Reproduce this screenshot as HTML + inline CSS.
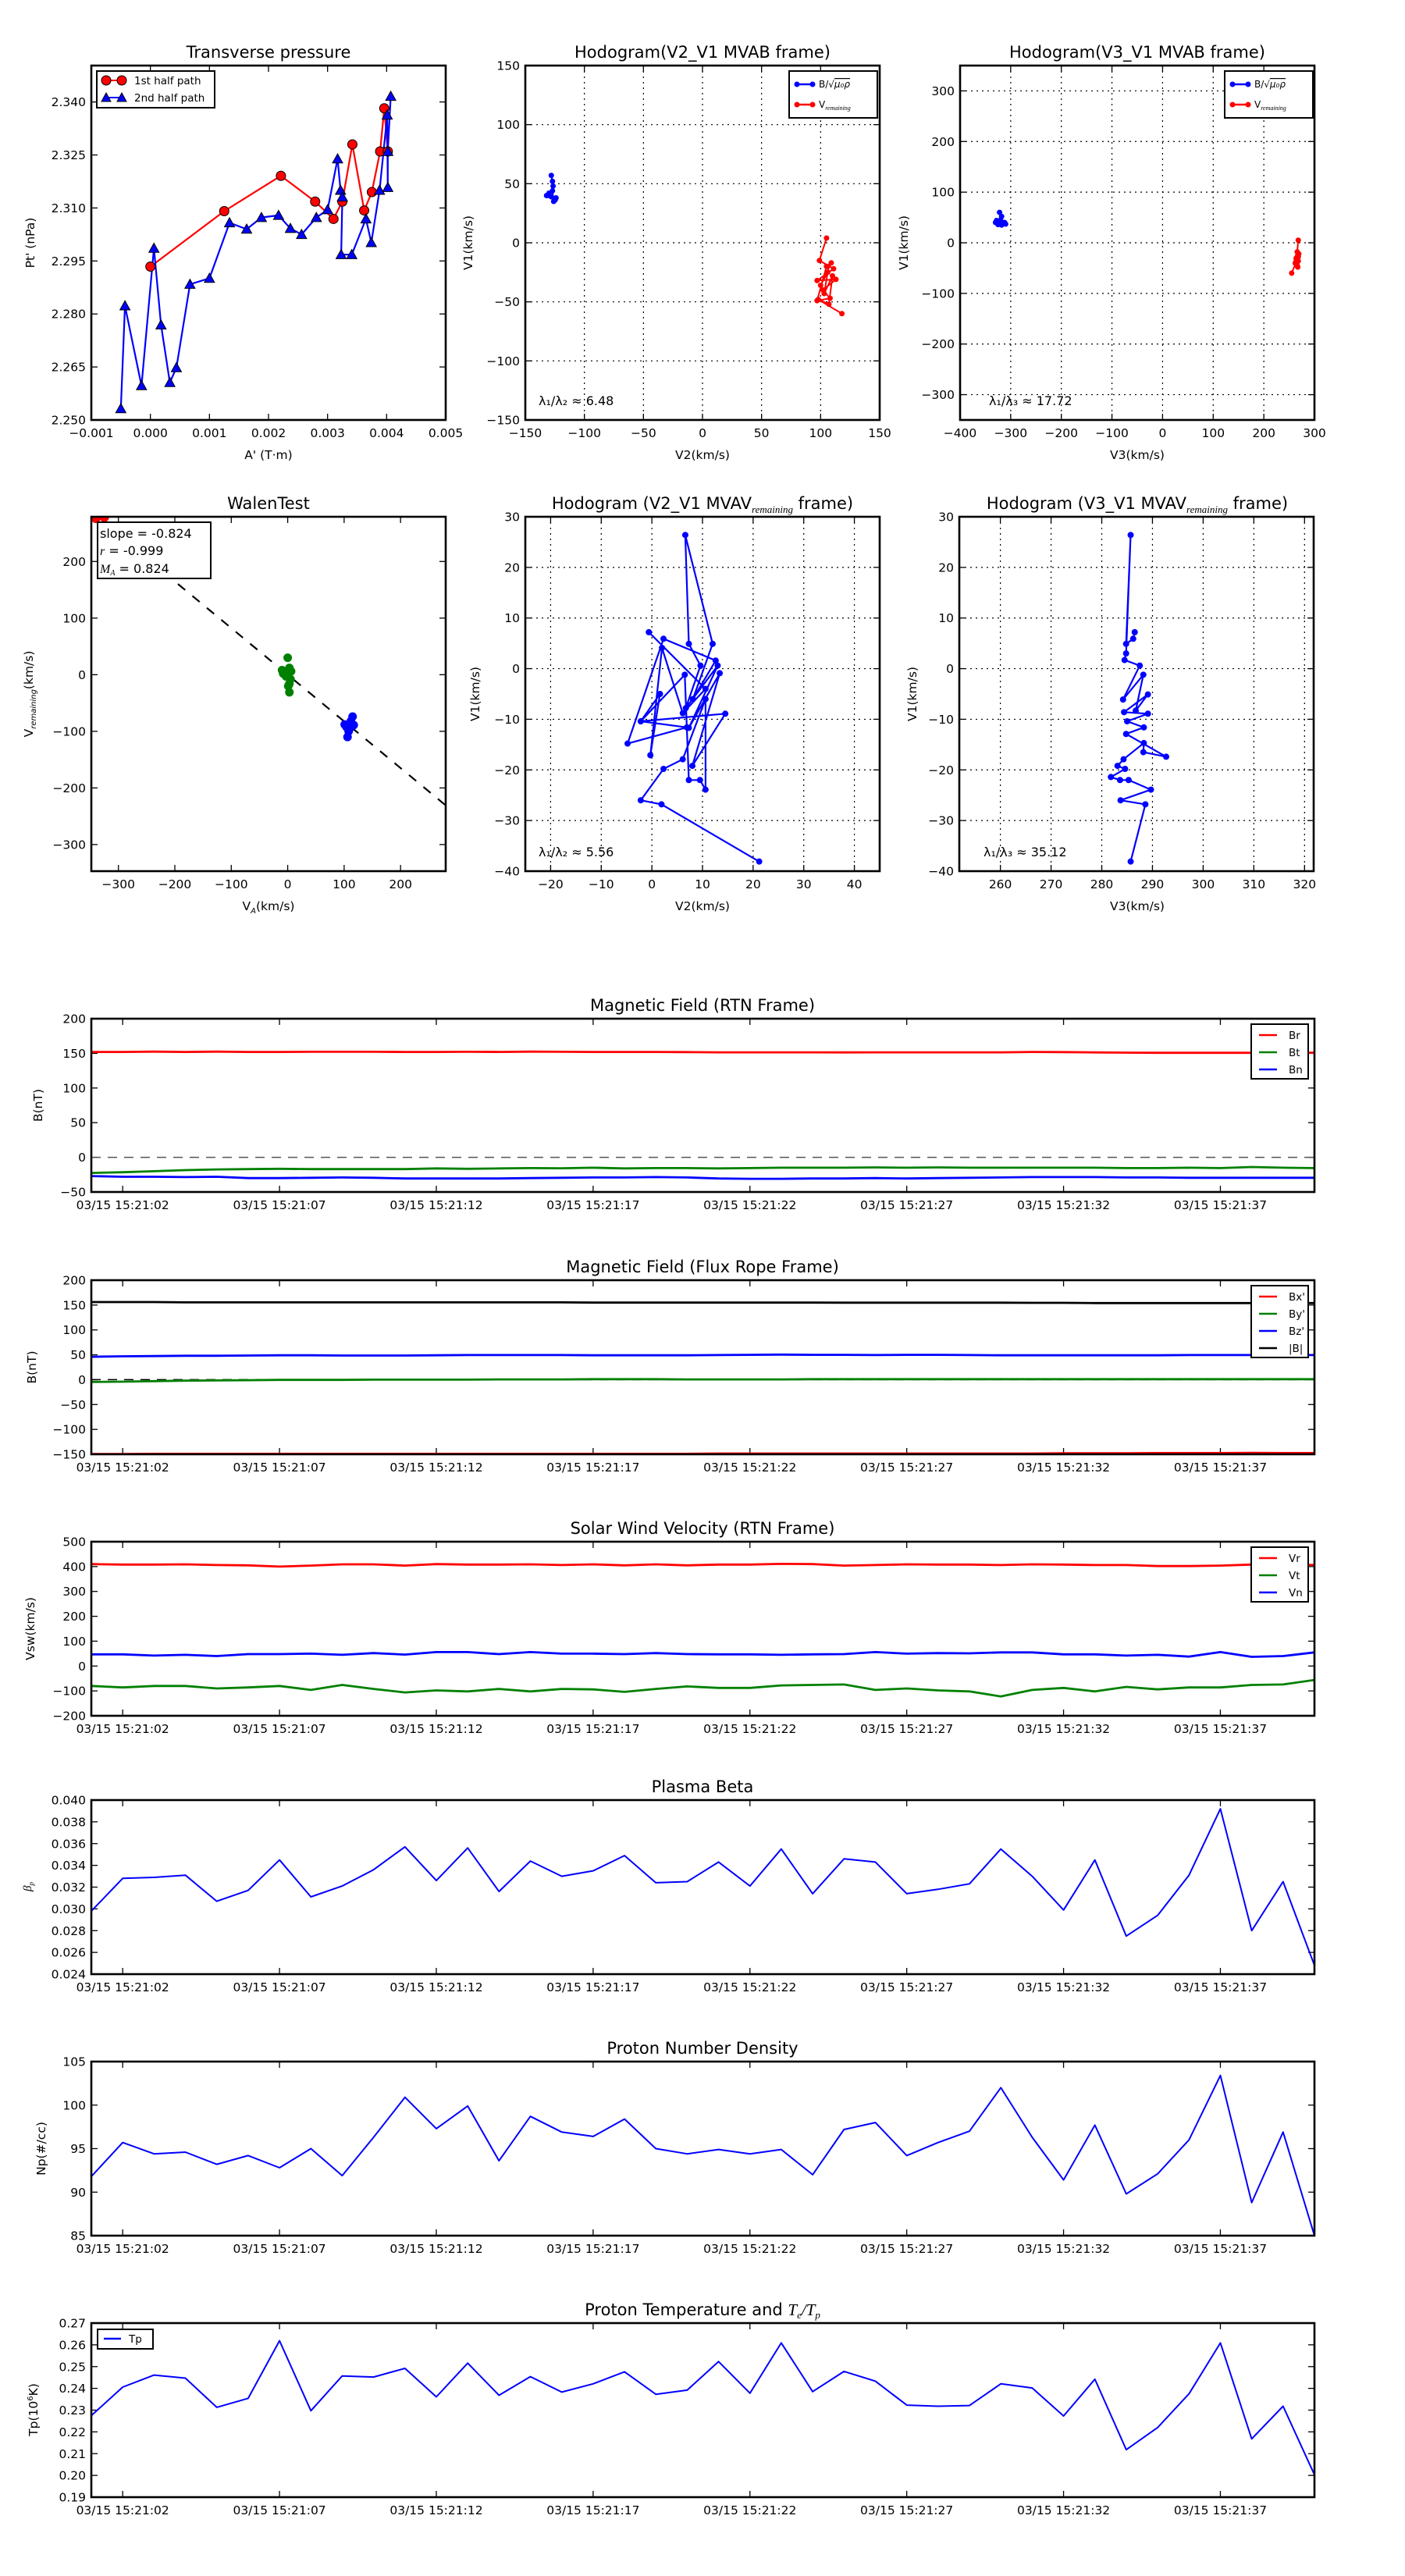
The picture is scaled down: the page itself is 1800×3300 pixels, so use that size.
<!DOCTYPE html>
<html><head><meta charset="utf-8"><title>Flux rope analysis</title>
<style>
html,body{margin:0;padding:0;background:#fff;}
svg{display:block;font-family:"DejaVu Sans","Liberation Sans",sans-serif;}
</style></head>
<body>
<svg id="fig" xmlns="http://www.w3.org/2000/svg" width="1800" height="3300" viewBox="0 0 1800 3300">
<rect x="0" y="0" width="1800" height="3300" fill="#fff"/>
</svg>
<script>
// ---------- DATA ----------
const redA = [0.0000,0.00125,0.00221,0.00279,0.00310,0.00325,0.00342,0.00362,0.00375,0.00389,0.00396,0.00402];
const redPt = [2.2934,2.3091,2.3191,2.3118,2.3069,2.3118,2.3280,2.3093,2.3145,2.3260,2.3382,2.3260];
const blueA = [-0.00050,-0.00043,-0.00015,0.00006,0.00018,0.00033,0.00044,0.00067,0.00100,0.00134,0.00163,0.00188,0.00217,0.00237,0.00256,0.00281,0.00300,0.00317,0.00322,0.00325,0.00323,0.00341,0.00365,0.00374,0.00388,0.00401,0.00402,0.00402,0.00407];
const bluePt = [2.2532,2.2823,2.2597,2.2986,2.2769,2.2606,2.2648,2.2884,2.2901,2.3058,2.3040,2.3073,2.3079,2.3042,2.3025,2.3073,2.3095,2.3239,2.3150,2.3131,2.2968,2.2968,2.3069,2.3002,2.3150,2.3363,2.3158,2.3260,2.3416];

const h1BlueV2 = [-128,-127,-126.5,-129.5,-124,-125,-132,-127,-126,-130,-124.5,-128];
const h1BlueV1 = [57,52,48,40,38,36,40,44,35,42,37,39];
const h1RedV2 = [105,99,111,97,113,102,108,97,105,109,100,106,103,110,107,98,118];
const h1RedV1 = [4,-15,-22,-32,-31,-40,-47,-49,-20,-17,-36,-25,-43,-28,-52,-48,-60];
const h2BlueV3 = [-322,-318,-320,-330,-315,-325,-312,-328,-318,-322,-310,-320];
const h2BlueV1 = [60,52,45,40,38,36,40,44,35,42,37,39];
const h2RedV3 = [268,266,267,264,268,265,269,266,267,264,262,268,255];
const h2RedV1 = [5,-18,-25,-30,-36,-40,-22,-45,-48,-33,-40,-28,-60];

const walenRedX = [-335,-325,-340,-330];
const walenRedY = [282,278,276,284];
const walenGreenX = [0,-10,3,6,-3,3,1,3,-8,5];
const walenGreenY = [30,8,12,6,-3,-16,-20,-31,2,-8];
const walenBlueX = [115,101,117,108,106,112,110,104];
const walenBlueY = [-74,-88,-89,-100,-110,-82,-95,-92];
const walenSlope = -0.824;

const m2V2 = [-0.6,10.6,6.1,2.0,-0.3,1.6,-2.2,6.9,-4.8,2.3,12.6,8.1,12.0,6.6,7.3,9.6,6.7,13.0,7.3,13.4,8.0,14.5,-2.2,6.5,7.3,9.5,10.6,10.6,6.1,2.3,-2.2,1.9,21.2];
const m2V1 = [7.2,-4.0,-8.8,4.1,-17.1,-5.0,-10.4,-11.6,-14.8,5.9,1.6,-6.0,4.9,26.4,4.9,0.6,-7.8,0.6,-11.7,-0.9,-19.2,-8.9,-10.4,-1.2,-22.0,-22.0,-23.9,-6.0,-17.9,-19.8,-26.0,-26.8,-38.1];
const m3V3 = [286.5,286.2,284.8,285.7,284.8,284.5,287.5,284.2,288.2,286.7,289.1,284.4,289.1,285.0,288.3,284.8,292.7,288.2,288.3,284.3,283.1,284.6,281.8,283.6,285.3,289.7,283.7,288.6,285.7];
const m3V1 = [7.2,5.9,4.9,26.4,3.0,1.7,0.6,-6.1,-1.2,-8.3,-5.1,-8.6,-8.9,-10.4,-11.6,-12.9,-17.4,-16.5,-14.7,-17.9,-19.2,-19.8,-21.4,-22.0,-22.0,-23.9,-26.0,-26.8,-38.1];

const timeLabels = ["03/15 15:21:02","03/15 15:21:07","03/15 15:21:12","03/15 15:21:17","03/15 15:21:22","03/15 15:21:27","03/15 15:21:32","03/15 15:21:37"];
const timeTicks = [2,7,12,17,22,27,32,37];
const tSec = [1,2,3,4,5,6,7,8,9,10,11,12,13,14,15,16,17,18,19,20,21,22,23,24,25,26,27,28,29,30,31,32,33,34,35,36,37,38,39,40];

const Br = [152,152,152.5,152,152.5,152,152,152.2,152.3,152.2,152,152,152.3,152,152.5,152.3,152,152,152,151.8,151.5,151.5,151.5,151.5,151.3,151.5,151.5,151.5,151.5,151.5,152,151.8,151.3,151,150.8,150.8,150.8,150.8,150.8,151];
const Bt = [-22.5,-21.5,-20,-18.5,-17.5,-17,-16.5,-17,-17,-17,-17,-16,-16.5,-16,-15.5,-15.8,-15,-16,-15.5,-15.5,-16,-15.5,-15,-15,-15,-14.5,-15,-14.5,-15,-15,-15,-15,-15,-15.5,-15.5,-15,-15.5,-14,-15,-15.5];
const Bn = [-27,-28,-28,-28.5,-28,-30,-30,-29.5,-29,-29.5,-30.5,-30.5,-30.5,-30.5,-30,-29.5,-29,-29,-28.5,-29,-30.5,-31,-31,-30.5,-30.5,-30,-30.5,-30,-29.5,-29,-28.5,-28.5,-28.5,-29,-29,-29.5,-29.5,-29.5,-29.5,-29.5];

const Bxp = [-149.5,-149.5,-149,-149,-149,-149,-149,-149,-149,-149,-149,-149,-149,-149,-149,-149,-149,-149,-149,-149,-148.5,-148.5,-148.5,-148.5,-148.5,-148.5,-148.5,-148.5,-148.5,-148.5,-148.5,-148,-148,-148,-147.5,-147.5,-147.5,-147,-147.5,-147.5];
const Byp = [-4.5,-4,-3,-2,-1.5,-1,-0.5,-0.5,-0.5,0,0,0,0,0.5,0.5,0.5,1,1,1,0.5,0.5,0.5,0.5,1,1,1,1,1,1,1,1,1,1,1,1,1,1,1,1,1];
const Bzp = [46,47,47.5,48,48,48.5,49,49,48.5,48.5,48.5,49,49.5,49.5,49.5,49.5,49,49,49,49,49.5,50,50.5,50,50,49.5,50,50,49.5,49,49,49,49,49,49,49.5,49.5,49.5,49.5,49.5];
const Bmag = [156,156,156,155.5,155.5,155.5,155.5,155.5,155.5,155.5,155.5,155.5,155.5,155.5,155.5,155.5,155,155,155,155,155,155,155,155,154.8,154.8,154.8,154.8,154.8,154.8,154.5,154.5,154,154,154,154,154,154,154,154];

const Vr = [410,408,408,409,406,405,400,404,409,409,404,410,408,408,409,406,409,405,409,405,408,408,411,410,404,406,409,408,408,406,409,408,406,406,402,402,404,408,410,406];
const Vt = [-80,-86,-80,-80,-90,-86,-80,-96,-76,-92,-106,-98,-102,-92,-102,-92,-94,-104,-92,-82,-88,-88,-78,-76,-74,-96,-90,-98,-102,-122,-96,-88,-102,-84,-94,-86,-86,-76,-74,-56];
const Vn = [47,47,42,45,40,48,48,50,45,52,46,56,56,48,56,50,50,48,52,48,47,47,45,47,48,56,50,52,51,55,55,47,47,42,45,38,56,37,40,55];

const beta = [0.0298,0.0328,0.0329,0.0331,0.0307,0.0317,0.0345,0.0311,0.0321,0.0336,0.0357,0.0326,0.0356,0.0316,0.0344,0.0330,0.0335,0.0349,0.0324,0.0325,0.0343,0.0321,0.0355,0.0314,0.0346,0.0343,0.0314,0.0318,0.0323,0.0355,0.0330,0.0299,0.0345,0.0275,0.0294,0.0331,0.0392,0.0280,0.0325,0.0248];
const dens = [91.8,95.7,94.4,94.6,93.2,94.2,92.8,95.0,91.9,96.3,100.9,97.3,99.9,93.6,98.7,96.9,96.4,98.4,95.0,94.4,94.9,94.4,94.9,92.0,97.2,98.0,94.2,95.7,97.0,102.0,96.3,91.4,97.7,89.8,92.1,96.0,103.4,88.8,96.9,85.0];
const temp = [0.2275,0.2406,0.2461,0.2447,0.2313,0.2354,0.2619,0.2297,0.2457,0.2452,0.2492,0.2361,0.2516,0.2368,0.2454,0.2383,0.2421,0.2476,0.2373,0.2392,0.2523,0.2378,0.2609,0.2385,0.2478,0.2433,0.2323,0.2318,0.2321,0.2421,0.2402,0.2273,0.2442,0.2118,0.2220,0.2375,0.2609,0.2168,0.2318,0.2003];

// ---------- HELPERS ----------
const NS = 'http://www.w3.org/2000/svg';
const svg = document.getElementById('fig');
let clipN = 0;
function mk(tag, attrs, name, parent) {
  const el = document.createElementNS(NS, tag);
  for (const k in attrs) el.setAttribute(k, attrs[k]);
  
  
  (parent || svg).appendChild(el);
  return el;
}
function txt(x, y, s, size, anchor, name, parent, extra) {
  const a = {x: x, y: y, 'font-size': size, 'text-anchor': anchor || 'middle', fill: '#000'};
  if (extra) for (const k in extra) a[k] = extra[k];
  const t = mk('text', a, name, parent);
  t.textContent = s;
  return t;
}
function fmtMinus(s) { return String(s).replace('-', '\u2212'); }

function axes(name, box, xl, yl, xt, yt, xlab, ylab, grid, xLabY) {
  const g = mk('g', {}, name);
  const sx = v => box.x0 + (v - xl[0]) / (xl[1] - xl[0]) * (box.x1 - box.x0);
  const sy = v => box.y1 - (v - yl[0]) / (yl[1] - yl[0]) * (box.y1 - box.y0);
  const cid = 'clip' + (clipN++);
  const cp = mk('clipPath', {id: cid}, name + '-clip', g);
  mk('rect', {x: box.x0, y: box.y0, width: box.x1 - box.x0, height: box.y1 - box.y0}, name + '-clip-rect', cp);
  if (grid) {
    xt.forEach(v => mk('line', {x1: sx(v), x2: sx(v), y1: box.y0, y2: box.y1, stroke: '#000', 'stroke-width': 1.2, 'stroke-dasharray': '2,5'}, name + '-grid-x', g));
    yt.forEach(v => mk('line', {x1: box.x0, x2: box.x1, y1: sy(v), y2: sy(v), stroke: '#000', 'stroke-width': 1.2, 'stroke-dasharray': '2,5'}, name + '-grid-y', g));
  }
  xt.forEach((v, i) => {
    const x = sx(v);
    mk('line', {x1: x, x2: x, y1: box.y1, y2: box.y1 - 8, stroke: '#000', 'stroke-width': 1.3}, name + '-xtick', g);
    mk('line', {x1: x, x2: x, y1: box.y0, y2: box.y0 + 8, stroke: '#000', 'stroke-width': 1.3}, name + '-xtick-top', g);
    txt(x, box.y1 + 22, xlab[i], 15.5, 'middle', name + '-xtick-label', g);
  });
  yt.forEach((v, i) => {
    const y = sy(v);
    mk('line', {x1: box.x0, x2: box.x0 + 8, y1: y, y2: y, stroke: '#000', 'stroke-width': 1.3}, name + '-ytick', g);
    mk('line', {x1: box.x1, x2: box.x1 - 8, y1: y, y2: y, stroke: '#000', 'stroke-width': 1.3}, name + '-ytick-right', g);
    txt(box.x0 - 7, y + 5.5, ylab[i], 15.5, 'end', name + '-ytick-label', g);
  });
  const dg = mk('g', {'clip-path': 'url(#' + cid + ')'}, name + '-data', g);
  return {sx, sy, g, dg, box, name};
}
function frame(ax) {
  const b = ax.box;
  mk('rect', {x: b.x0, y: b.y0, width: b.x1 - b.x0, height: b.y1 - b.y0, fill: 'none', stroke: '#000', 'stroke-width': 2.6}, ax.name + '-frame', ax.g);
}
function line(ax, xs, ys, color, w, name, dash) {
  const pts = xs.map((x, i) => ax.sx(x).toFixed(1) + ',' + ax.sy(ys[i]).toFixed(1)).join(' ');
  const a = {points: pts, fill: 'none', stroke: color, 'stroke-width': w, 'stroke-linejoin': 'round'};
  if (dash) a['stroke-dasharray'] = dash;
  return mk('polyline', a, name, ax.dg);
}
function dots(ax, xs, ys, color, r, name, stroke) {
  xs.forEach((x, i) => {
    const a = {cx: ax.sx(x), cy: ax.sy(ys[i]), r: r, fill: color};
    if (stroke) { a.stroke = stroke; a['stroke-width'] = 1; }
    mk('circle', a, name, ax.dg);
  });
}
function tris(ax, xs, ys, color, s, name) {
  xs.forEach((x, i) => {
    const cx = ax.sx(x), cy = ax.sy(ys[i]);
    mk('polygon', {points: (cx) + ',' + (cy - s) + ' ' + (cx - s) + ',' + (cy + s * 0.8) + ' ' + (cx + s) + ',' + (cy + s * 0.8), fill: color, stroke: '#000', 'stroke-width': 1}, name, ax.dg);
  });
}
function ylabel(x, yc, s, name, sub) {
  const t = mk('text', {x: 0, y: 0, 'font-size': 15.5, 'text-anchor': 'middle', transform: 'translate(' + x + ',' + yc + ') rotate(-90)', fill: '#000'}, name);
  t.textContent = s;
  if (sub) {
    const ts = mk('tspan', {'font-size': 10, 'font-style': 'italic', dy: 4}, name + '-sub', t);
    ts.textContent = sub[0];
    const ts2 = mk('tspan', {dy: -4}, name + '-rest', t);
    ts2.textContent = sub[1];
  }
  return t;
}
function ticksLabels(vals, dec) { return vals.map(v => fmtMinus(dec === undefined ? String(v) : v.toFixed(dec))); }
function range(a, b, s) { const r = []; for (let v = a; v <= b + 1e-9; v += s) r.push(Math.round(v * 1e6) / 1e6); return r; }

// ---------- ROW 1 ----------
// Transverse pressure
{
  const xt = range(-0.001, 0.005, 0.001), yt = range(2.250, 2.340, 0.015);
  const ax = axes('transverse-pressure-plot', {x0: 117, x1: 571, y0: 84, y1: 538}, [-0.001, 0.005], [2.250, 2.3503], xt, yt, ticksLabels(xt, 3), ticksLabels(yt, 3), false);
  line(ax, redA, redPt, '#ff0000', 2.2, 'first-half-path-line');
  line(ax, blueA, bluePt, '#0000ff', 2.2, 'second-half-path-line');
  dots(ax, redA, redPt, '#ff0000', 6, 'first-half-marker', '#000');
  tris(ax, blueA, bluePt, '#0000ff', 6.5, 'second-half-marker');
  frame(ax);
  txt(344, 74, 'Transverse pressure', 21, 'middle', 'transverse-pressure-title');
  txt(344, 588, "A' (T\u00b7m)", 15.5, 'middle', 'transverse-x-axis-title');
  ylabel(44, 311, "Pt' (nPa)", 'transverse-y-axis-title');
  const lg = mk('g', {}, 'transverse-legend');
  mk('rect', {x: 124, y: 91, width: 151, height: 47, fill: '#fff', stroke: '#000', 'stroke-width': 2}, 'legend-box', lg);
  mk('line', {x1: 136, x2: 156, y1: 103, y2: 103, stroke: '#f00', 'stroke-width': 2}, 'legend-line-red', lg);
  mk('circle', {cx: 136, cy: 103, r: 6, fill: '#f00', stroke: '#000'}, 'legend-marker-red', lg);
  mk('circle', {cx: 156, cy: 103, r: 6, fill: '#f00', stroke: '#000'}, 'legend-marker-red', lg);
  txt(172, 108, '1st half path', 13.5, 'start', 'legend-entry-first-half', lg);
  mk('line', {x1: 136, x2: 156, y1: 125, y2: 125, stroke: '#00f', 'stroke-width': 2}, 'legend-line-blue', lg);
  mk('polygon', {points: '136,119 130,130 142,130', fill: '#00f', stroke: '#000'}, 'legend-marker-blue', lg);
  mk('polygon', {points: '156,119 150,130 162,130', fill: '#00f', stroke: '#000'}, 'legend-marker-blue', lg);
  txt(172, 130, '2nd half path', 13.5, 'start', 'legend-entry-second-half', lg);
}

function hodoLegend(x0, name) {
  const lg = mk('g', {}, name);
  mk('rect', {x: x0, y: 91, width: 113, height: 60, fill: '#fff', stroke: '#000', 'stroke-width': 2}, name + '-box', lg);
  mk('line', {x1: x0 + 10, x2: x0 + 30, y1: 108, y2: 108, stroke: '#00f', 'stroke-width': 2.5}, name + '-line-blue', lg);
  mk('circle', {cx: x0 + 10, cy: 108, r: 3.5, fill: '#00f'}, name + '-dot', lg);
  mk('circle', {cx: x0 + 30, cy: 108, r: 3.5, fill: '#00f'}, name + '-dot', lg);
  const t1 = txt(x0 + 38, 112, 'B/\u221a', 12, 'start', name + '-entry-b', lg);
  const s1 = mk('tspan', {'font-style': 'italic', 'text-decoration': 'overline'}, name + '-mu', t1);
  s1.textContent = '\u03bc\u2080\u03c1';
  mk('line', {x1: x0 + 10, x2: x0 + 30, y1: 134, y2: 134, stroke: '#f00', 'stroke-width': 2.5}, name + '-line-red', lg);
  mk('circle', {cx: x0 + 10, cy: 134, r: 3.5, fill: '#f00'}, name + '-dot', lg);
  mk('circle', {cx: x0 + 30, cy: 134, r: 3.5, fill: '#f00'}, name + '-dot', lg);
  const t2 = txt(x0 + 38, 138, 'V', 12, 'start', name + '-entry-v', lg);
  const s2 = mk('tspan', {'font-size': 8, 'font-style': 'italic', dy: 3, 'font-family': 'Liberation Serif, serif'}, name + '-sub', t2);
  s2.textContent = 'remaining';
}

// Hodogram V2-V1 MVAB
{
  const xt = range(-150, 150, 50), yt = range(-150, 150, 50);
  const ax = axes('hodogram-v2-v1-mvab', {x0: 673, x1: 1127, y0: 84, y1: 538}, [-150, 150], [-150, 150], xt, yt, ticksLabels(xt), ticksLabels(yt), true);
  line(ax, h1BlueV2, h1BlueV1, '#0000ff', 2, 'alfven-velocity-path');
  dots(ax, h1BlueV2, h1BlueV1, '#0000ff', 3.5, 'alfven-velocity-point');
  line(ax, h1RedV2, h1RedV1, '#ff0000', 2, 'remaining-velocity-path');
  dots(ax, h1RedV2, h1RedV1, '#ff0000', 3.5, 'remaining-velocity-point');
  frame(ax);
  txt(900, 74, 'Hodogram(V2_V1 MVAB frame)', 21, 'middle', 'hodogram-mvab-v2-title');
  txt(900, 588, 'V2(km/s)', 15.5, 'middle', 'hodogram-mvab-v2-x-axis-title');
  ylabel(605, 311, 'V1(km/s)', 'hodogram-mvab-v2-y-axis-title');
  txt(690, 519, '\u03bb\u2081/\u03bb\u2082 \u2248 6.48', 16, 'start', 'eigenvalue-ratio-annotation');
  hodoLegend(1011, 'hodogram-mvab-v2-legend');
}
// Hodogram V3-V1 MVAB
{
  const xt = range(-400, 300, 100), yt = range(-300, 300, 100);
  const ax = axes('hodogram-v3-v1-mvab', {x0: 1230, x1: 1684, y0: 84, y1: 538}, [-400, 300], [-350, 350], xt, yt, ticksLabels(xt), ticksLabels(yt), true);
  line(ax, h2BlueV3, h2BlueV1, '#0000ff', 2, 'alfven-velocity-path');
  dots(ax, h2BlueV3, h2BlueV1, '#0000ff', 3.5, 'alfven-velocity-point');
  line(ax, h2RedV3, h2RedV1, '#ff0000', 2, 'remaining-velocity-path');
  dots(ax, h2RedV3, h2RedV1, '#ff0000', 3.5, 'remaining-velocity-point');
  frame(ax);
  txt(1457, 74, 'Hodogram(V3_V1 MVAB frame)', 21, 'middle', 'hodogram-mvab-v3-title');
  txt(1457, 588, 'V3(km/s)', 15.5, 'middle', 'hodogram-mvab-v3-x-axis-title');
  ylabel(1163, 311, 'V1(km/s)', 'hodogram-mvab-v3-y-axis-title');
  txt(1267, 519, '\u03bb\u2081/\u03bb\u2083 \u2248 17.72', 16, 'start', 'eigenvalue-ratio-annotation');
  hodoLegend(1569, 'hodogram-mvab-v3-legend');
}

// ---------- ROW 2 ----------
{
  const xt = range(-300, 200, 100), yt = range(-300, 200, 100);
  const xl = [-348, 280], yl = [-347, 279];
  const ax = axes('walen-test-plot', {x0: 117, x1: 571, y0: 662, y1: 1116}, xl, yl, xt, yt, ticksLabels(xt), ticksLabels(yt), false);
  line(ax, [xl[0], xl[1]], [walenSlope * xl[0], walenSlope * xl[1]], '#000', 2.2, 'walen-regression-line', '12,12');
  dots(ax, walenRedX, walenRedY, '#ff0000', 6, 'walen-red-point');
  dots(ax, walenGreenX, walenGreenY, '#008000', 5.5, 'walen-green-point');
  dots(ax, walenBlueX, walenBlueY, '#0000ff', 5.5, 'walen-blue-point');
  frame(ax);
  txt(344, 652, 'WalenTest', 21, 'middle', 'walen-test-title');
  const xlab = txt(344, 1166, 'V', 15.5, 'middle', 'walen-x-axis-title');
  const xs = mk('tspan', {'font-size': 10, 'font-style': 'italic', dy: 4}, 'walen-x-sub', xlab); xs.textContent = 'A';
  const xr = mk('tspan', {dy: -4}, 'walen-x-rest', xlab); xr.textContent = '(km/s)';
  ylabel(42, 889, 'V', 'walen-y-axis-title', ['remaining', '(km/s)']);
  const lg = mk('g', {}, 'walen-stats-box');
  mk('rect', {x: 125, y: 669, width: 145, height: 72, fill: '#fff', stroke: '#000', 'stroke-width': 2}, 'walen-stats-frame', lg);
  txt(128, 689, 'slope = -0.824', 16, 'start', 'walen-slope-text', lg);
  const r = txt(128, 711, '', 16, 'start', 'walen-r-text', lg);
  const ri = mk('tspan', {'font-style': 'italic', 'font-family': 'Liberation Serif, serif'}, 'r-symbol', r); ri.textContent = 'r';
  const rr = mk('tspan', {}, 'r-value', r); rr.textContent = ' = -0.999';
  const m = txt(128, 734, '', 16, 'start', 'walen-ma-text', lg);
  const mi = mk('tspan', {'font-style': 'italic', 'font-family': 'Liberation Serif, serif'}, 'ma-symbol', m); mi.textContent = 'M';
  const ms = mk('tspan', {'font-style': 'italic', 'font-size': 10, dy: 3, 'font-family': 'Liberation Serif, serif'}, 'ma-sub', m); ms.textContent = 'A';
  const mv = mk('tspan', {dy: -3}, 'ma-value', m); mv.textContent = ' = 0.824';
}
function mvavTitle(x, s1, name) {
  const t = txt(x, 652, s1, 21, 'middle', name);
  const s = mk('tspan', {'font-size': 13, 'font-style': 'italic', dy: 5, 'font-family': 'Liberation Serif, serif'}, name + '-sub', t);
  s.textContent = 'remaining';
  const r = mk('tspan', {dy: -5}, name + '-rest', t);
  r.textContent = ' frame)';
}
{
  const xt = range(-20, 40, 10), yt = range(-40, 30, 10);
  const ax = axes('hodogram-v2-v1-mvav', {x0: 673, x1: 1127, y0: 662, y1: 1116}, [-25, 45], [-40, 30], xt, yt, ticksLabels(xt), ticksLabels(yt), true);
  line(ax, m2V2, m2V1, '#0000ff', 2.2, 'mvav-v2-path');
  dots(ax, m2V2, m2V1, '#0000ff', 4, 'mvav-v2-point');
  frame(ax);
  mvavTitle(900, 'Hodogram (V2_V1 MVAV', 'hodogram-mvav-v2-title');
  txt(900, 1166, 'V2(km/s)', 15.5, 'middle', 'hodogram-mvav-v2-x-axis-title');
  ylabel(614, 889, 'V1(km/s)', 'hodogram-mvav-v2-y-axis-title');
  txt(690, 1097, '\u03bb\u2081/\u03bb\u2082 \u2248 5.56', 16, 'start', 'eigenvalue-ratio-annotation');
}
{
  const xt = range(260, 320, 10), yt = range(-40, 30, 10);
  const ax = axes('hodogram-v3-v1-mvav', {x0: 1229, x1: 1683, y0: 662, y1: 1116}, [251.9, 321.8], [-40, 30], xt, yt, ticksLabels(xt), ticksLabels(yt), true);
  line(ax, m3V3, m3V1, '#0000ff', 2.2, 'mvav-v3-path');
  dots(ax, m3V3, m3V1, '#0000ff', 4, 'mvav-v3-point');
  frame(ax);
  mvavTitle(1457, 'Hodogram (V3_V1 MVAV', 'hodogram-mvav-v3-title');
  txt(1457, 1166, 'V3(km/s)', 15.5, 'middle', 'hodogram-mvav-v3-x-axis-title');
  ylabel(1174, 889, 'V1(km/s)', 'hodogram-mvav-v3-y-axis-title');
  txt(1260, 1097, '\u03bb\u2081/\u03bb\u2083 \u2248 35.12', 16, 'start', 'eigenvalue-ratio-annotation');
}

// ---------- TIME SERIES ----------
function timePanel(name, y0, y1, yl, yt, ydec, title, ylab, ylx) {
  const ax = axes(name, {x0: 117, x1: 1684, y0: y0, y1: y1}, [1, 40], yl, timeTicks, yt, timeLabels, ticksLabels(yt, ydec), false);
  txt(900, y0 - 10, title, 21, 'middle', name + '-title');
  if (ylab) ylabel(ylx, (y0 + y1) / 2, ylab, name + '-y-axis-title');
  return ax;
}
function tsLegend(x0, y0, items, name) {
  const lg = mk('g', {}, name);
  mk('rect', {x: x0, y: y0, width: 73, height: items.length * 22 + 4, fill: '#fff', stroke: '#000', 'stroke-width': 2}, name + '-box', lg);
  items.forEach((it, i) => {
    const y = y0 + 14 + i * 22;
    mk('line', {x1: x0 + 10, x2: x0 + 33, y1: y, y2: y, stroke: it[1], 'stroke-width': 2.5}, name + '-swatch', lg);
    txt(x0 + 48, y + 5, it[0], 13.5, 'start', 'legend-entry', lg);
  });
}
{
  const ax = timePanel('magnetic-field-rtn', 1305, 1527, [-50, 200], range(-50, 200, 50), undefined, 'Magnetic Field (RTN Frame)', 'B(nT)', 54);
  line(ax, [1, 40], [0, 0], '#555', 1.5, 'zero-line', '12,9');
  line(ax, tSec, Br, '#ff0000', 2.8, 'br-line');
  line(ax, tSec, Bt, '#008000', 2.8, 'bt-line');
  line(ax, tSec, Bn, '#0000ff', 2.8, 'bn-line');
  frame(ax);
  tsLegend(1603, 1312, [['Br', '#f00'], ['Bt', '#008000'], ['Bn', '#00f']], 'rtn-b-legend');
}
{
  const ax = timePanel('magnetic-field-flux-rope', 1640, 1863, [-150, 200], range(-150, 200, 50), undefined, 'Magnetic Field (Flux Rope Frame)', 'B(nT)', 46);
  line(ax, [1, 40], [0, 0], '#000', 1.5, 'zero-line', '12,9');
  line(ax, tSec, Bxp, '#ff0000', 2.8, 'bx-prime-line');
  line(ax, tSec, Byp, '#008000', 2.8, 'by-prime-line');
  line(ax, tSec, Bzp, '#0000ff', 2.8, 'bz-prime-line');
  line(ax, tSec, Bmag, '#000000', 2.8, 'b-magnitude-line');
  frame(ax);
  tsLegend(1603, 1647, [["Bx'", '#f00'], ["By'", '#008000'], ["Bz'", '#00f'], ['|B|', '#000']], 'flux-rope-legend');
}
{
  const ax = timePanel('solar-wind-velocity', 1975, 2198, [-200, 500], range(-200, 500, 100), undefined, 'Solar Wind Velocity (RTN Frame)', 'Vsw(km/s)', 44);
  line(ax, tSec, Vr, '#ff0000', 2.8, 'vr-line');
  line(ax, tSec, Vt, '#008000', 2.8, 'vt-line');
  line(ax, tSec, Vn, '#0000ff', 2.8, 'vn-line');
  frame(ax);
  tsLegend(1603, 1982, [['Vr', '#f00'], ['Vt', '#008000'], ['Vn', '#00f']], 'velocity-legend');
}
{
  const ax = timePanel('plasma-beta', 2306, 2529, [0.024, 0.040], range(0.024, 0.040, 0.002), 3, 'Plasma Beta', null, 0);
  const t = mk('text', {x: 0, y: 0, 'font-size': 15, 'font-style': 'italic', 'font-family': 'Liberation Serif, serif', 'text-anchor': 'middle', transform: 'translate(40,2417) rotate(-90)'}, 'plasma-beta-y-axis-title');
  t.textContent = '\u03b2';
  const s = mk('tspan', {'font-size': 9, dy: 3}, 'beta-sub', t); s.textContent = 'p';
  line(ax, tSec, beta, '#0000ff', 2, 'plasma-beta-line');
  frame(ax);
}
{
  const ax = timePanel('proton-density', 2641, 2864, [85, 105], range(85, 105, 5), undefined, 'Proton Number Density', 'Np(#/cc)', 58);
  line(ax, tSec, dens, '#0000ff', 2, 'proton-density-line');
  frame(ax);
}
{
  const ax = timePanel('proton-temperature', 2976, 3199, [0.19, 0.27], range(0.19, 0.27, 0.01), 2, '', null, 0);
  const tt = txt(900, 2966, 'Proton Temperature and ', 21, 'middle', 'proton-temperature-title');
  const ts = mk('tspan', {'font-style': 'italic', 'font-family': 'Liberation Serif, serif'}, 'te-tp', tt);
  ts.textContent = 'T';
  const s1 = mk('tspan', {'font-size': 13, 'font-style': 'italic', dy: 4, 'font-family': 'Liberation Serif, serif'}, 'te-sub', tt); s1.textContent = 'e';
  const s2 = mk('tspan', {'font-style': 'italic', dy: -4, 'font-family': 'Liberation Serif, serif'}, 'tp-part', tt); s2.textContent = '/T';
  const s3 = mk('tspan', {'font-size': 13, 'font-style': 'italic', dy: 4, 'font-family': 'Liberation Serif, serif'}, 'tp-sub', tt); s3.textContent = 'p';
  const yl = ylabel(48, 3087, 'Tp(10', 'proton-temperature-y-axis-title');
  const sup = mk('tspan', {'font-size': 10, dy: -6}, 'tp-exp', yl); sup.textContent = '6';
  const rest = mk('tspan', {dy: 6}, 'tp-unit', yl); rest.textContent = 'K)';
  line(ax, tSec, temp, '#0000ff', 2, 'proton-temperature-line');
  frame(ax);
  const lg = mk('g', {}, 'temperature-legend');
  mk('rect', {x: 125, y: 2984, width: 71, height: 25, fill: '#fff', stroke: '#000', 'stroke-width': 2}, 'temperature-legend-box', lg);
  mk('line', {x1: 133, x2: 155, y1: 2996, y2: 2996, stroke: '#00f', 'stroke-width': 2.5}, 'temperature-legend-swatch', lg);
  txt(165, 3001, 'Tp', 13.5, 'start', 'legend-entry-tp', lg);
}
</script>
</body></html>
